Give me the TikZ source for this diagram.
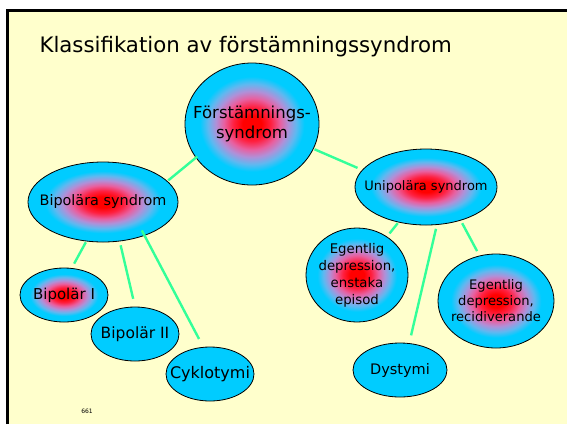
\documentclass[tikz,border=0pt]{standalone}
\usepackage{fontspec}
\setmainfont{DejaVu Sans}
\usetikzlibrary{shapes.geometric}
\definecolor{bg}{HTML}{FFFFCC}
\definecolor{nodeblue}{HTML}{00CCFF}
\definecolor{linkgreen}{HTML}{33FF99}
\definecolor{shA}{HTML}{FF2040}
\definecolor{shB}{HTML}{E860A0}
\definecolor{shC}{HTML}{B090D8}
\definecolor{shD}{HTML}{60B8F0}
\pgfdeclareradialshading{redblue}{\pgfpoint{0bp}{0bp}}{color(0bp)=(red); color(3.5bp)=(red); color(7bp)=(shA); color(10.5bp)=(shB); color(13.5bp)=(shC); color(16.5bp)=(shD); color(19.5bp)=(nodeblue); color(50bp)=(nodeblue)}
\tikzset{
  oval/.style={ellipse, draw=black, line width=0.8pt, inner sep=-20pt, align=center},
  hot/.style={oval, shading=redblue},
  cold/.style={oval, fill=nodeblue},
  link/.style={draw=linkgreen, line width=2.4pt}
}
\begin{document}
\begin{tikzpicture}[x=1pt,y=-1pt]
\useasboundingbox (0,0) rectangle (567,424);
\fill[white] (0,0) rectangle (567,424);
\fill[bg] (7,10) rectangle (567,424);
\draw[line width=3pt] (7.5,424) -- (7.5,10) -- (567,10);
\node[anchor=base west, font=\fontsize{21.3}{24}\selectfont] (title) at (36,52) {Klassifikation av förstämningssyndrom};
\node[anchor=base, font=\fontsize{6}{7}\selectfont] (num) at (87,413) {661};
\node[hot, minimum width=134pt, minimum height=122pt, font=\fontsize{16.5}{19.5}\selectfont] (top) at (252,124) {Förstämnings-\\syndrom};
\node[hot, minimum width=150pt, minimum height=80pt, font=\fontsize{14.4}{17}\selectfont] (bip) at (103,202) {Bipolära syndrom};
\node[hot, minimum width=142pt, minimum height=76pt, font=\fontsize{13}{16}\selectfont] (uni) at (426,187) {Unipolära syndrom};
\node[hot, minimum width=88pt, minimum height=54pt, font=\fontsize{15}{17}\selectfont] (b1) at (64,295) {Bipolär I};
\node[cold, minimum width=88pt, minimum height=54pt, font=\fontsize{15.5}{17}\selectfont] (b2) at (135,334) {Bipolär II};
\node[cold, minimum width=88pt, minimum height=54pt, font=\fontsize{16}{18}\selectfont] (cyk) at (210,374) {Cyklotymi};
\node[hot, minimum width=102pt, minimum height=94pt, font=\fontsize{13.3}{17}\selectfont] (ens) at (357,275) {Egentlig\\depression,\\enstaka\\episod};
\node[hot, minimum width=116pt, minimum height=94pt, font=\fontsize{13.1}{16}\selectfont] (rec) at (496,301) {Egentlig\\depression,\\recidiverande};
\node[cold, minimum width=94pt, minimum height=54pt, font=\fontsize{14.5}{17}\selectfont] (dys) at (400,370) {Dystymi};
\draw[link, shorten <=-2pt, shorten >=1pt] (top.211) -- (bip.18);
\draw[link, shorten <=1pt, shorten >=5pt] (top.338) -- (uni.165);
\draw[link, shorten <=1pt, shorten >=5pt] (bip.247) -- (b1.74);
\draw[link, shorten <=4pt, shorten >=8pt] (bip.293) -- (b2.90);
\draw[link, shorten <=-6pt, shorten >=9pt] (bip.321) -- (cyk.104);
\draw[link, shorten <=1pt, shorten >=4pt] (uni.232) -- (ens.52);
\draw[link, shorten <=4pt, shorten >=8pt] (uni.286) -- (dys.71);
\draw[link, shorten <=3pt, shorten >=5pt] (uni.316) -- (rec.110);
\end{tikzpicture}
\end{document}
